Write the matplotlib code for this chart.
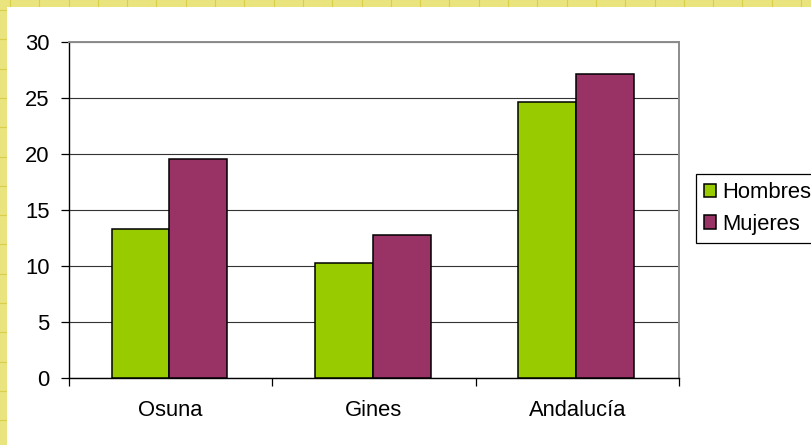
import matplotlib
matplotlib.use('Agg')
import matplotlib.pyplot as plt
from matplotlib.patches import Rectangle
from matplotlib.lines import Line2D
import numpy as np

categories = ['Osuna', 'Gines', 'Andalucía']
hombres = [13.3, 10.2, 24.6]
mujeres = [19.5, 12.7, 27.1]
series_names = ['Hombres', 'Mujeres']
series_colors = ['#99CC00', '#993366']
yticks = [0, 5, 10, 15, 20, 25, 30]

plt.rcParams['font.family'] = ['Liberation Sans', 'DejaVu Sans']
FS = 15.8

W, H = 812, 445
fig = plt.figure(figsize=(W / 100, H / 100), dpi=100)
fig.patch.set_facecolor('#EAE47E')

# yellow paper grid lines in the border strip
for i in range(30):
    x = (10 + i * 29.3) / W
    fig.add_artist(Line2D([x, x], [1 - 7 / H, 1], transform=fig.transFigure,
                          color='#D8D04A', lw=0.8, zorder=0))
    y = 1 - (10 + i * 29.3) / H
    fig.add_artist(Line2D([0, 7 / W], [y, y], transform=fig.transFigure,
                          color='#D8D04A', lw=0.8, zorder=0))
# white panel
fig.add_artist(Rectangle((7 / W, 0), 1 - 7 / W, 1 - 7 / H, transform=fig.transFigure,
                         facecolor='white', edgecolor='none', zorder=0.5))

ax = fig.add_axes([69 / W, 1 - 377.5 / H, (679 - 69) / W, (377.5 - 42) / H])
ax.set_facecolor('none')
ax.set_zorder(2)

x = np.arange(len(categories))
bw = 0.284
off = -0.006
ax.bar(x - bw / 2 + off, hombres, bw, color=series_colors[0], edgecolor='black', linewidth=1.1, zorder=3)
ax.bar(x + bw / 2 + off, mujeres, bw, color=series_colors[1], edgecolor='black', linewidth=1.1, zorder=3)

ax.set_xlim(-0.5, len(categories) - 0.5)
ax.set_ylim(0, 30)
ax.set_yticks(yticks)
ax.yaxis.grid(True, color='#333333', linewidth=0.8, zorder=1)
ax.set_axisbelow(True)

ax.set_xticks(x)
ax.set_xticklabels(categories, fontsize=FS)
ax.tick_params(axis='x', length=0, pad=16)
ax.set_xticks(np.arange(-0.5, len(categories), 1.0), minor=True)
ax.tick_params(axis='x', which='minor', direction='out', length=6, width=0.9, color='black')
ax.tick_params(axis='y', direction='out', length=6, width=0.9, labelsize=FS, pad=8)

for s in ['left', 'bottom']:
    ax.spines[s].set_color('black')
    ax.spines[s].set_linewidth(1.0)
for s in ['top', 'right']:
    ax.spines[s].set_color('#8C8C8C')
    ax.spines[s].set_linewidth(1.4)

handles = [Rectangle((0, 0), 1, 1, facecolor=c, edgecolor='black', linewidth=1.1) for c in series_colors]
leg = fig.legend(handles, series_names, loc='upper left', bbox_to_anchor=(696 / W, 1 - 174 / H),
                 borderaxespad=0, frameon=True, fancybox=False, edgecolor='black', framealpha=1,
                 fontsize=FS, handlelength=0.55, handleheight=0.55, handletextpad=0.3,
                 labelspacing=0.5, borderpad=0.36)
leg.get_frame().set_linewidth(0.9)

fig.savefig('out.png', dpi=100, facecolor=fig.get_facecolor())
